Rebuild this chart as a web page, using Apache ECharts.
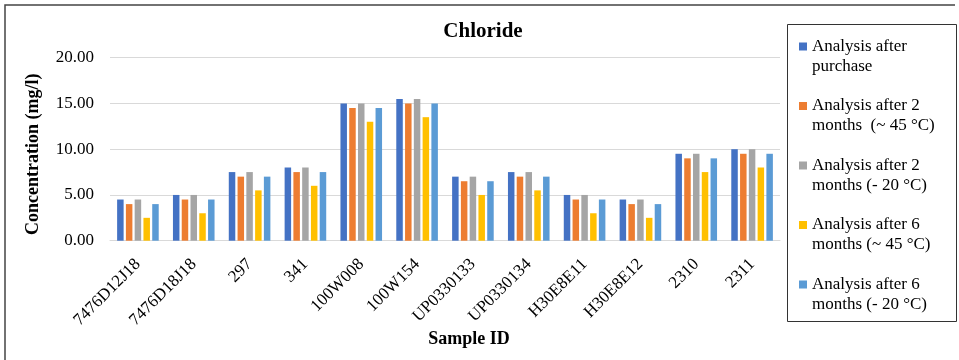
<!DOCTYPE html>
<html>
<head>
<meta charset="utf-8">
<script src="https://cdn.jsdelivr.net/npm/echarts@6/dist/echarts.min.js"></script>
<style>html,body{margin:0;padding:0;background:#fff}#c{width:959px;height:360px}</style>
</head>
<body>
<div id="c"></div>
<script>
const categories = ['7476D12J18','7476D18J18','297','341','100W008','100W154','UP0330133','UP0330134','H30E8E11','H30E8E12','2310','2311'];
const seriesNames = ['Analysis after purchase','Analysis after 2 months  (~ 45 °C)','Analysis after 2 months (- 20 °C)','Analysis after 6 months (~ 45 °C)','Analysis after 6 months (- 20 °C)'];
const legendLabels = ['Analysis after\npurchase','Analysis after 2\nmonths  (~ 45 °C)','Analysis after 2\nmonths (- 20 °C)','Analysis after 6\nmonths (~ 45 °C)','Analysis after 6\nmonths (- 20 °C)'];
const afterPurchase   = [4.5, 5.0, 7.5, 8.0, 15.0, 15.5, 7.0, 7.5, 5.0, 4.5, 9.5, 10.0];
const after2m45       = [4.0, 4.5, 7.0, 7.5, 14.5, 15.0, 6.5, 7.0, 4.5, 4.0, 9.0, 9.5];
const after2mMinus20  = [4.5, 5.0, 7.5, 8.0, 15.0, 15.5, 7.0, 7.5, 5.0, 4.5, 9.5, 10.0];
const after6m45       = [2.5, 3.0, 5.5, 6.0, 13.0, 13.5, 5.0, 5.5, 3.0, 2.5, 7.5, 8.0];
const after6mMinus20  = [4.0, 4.5, 7.0, 7.5, 14.5, 15.0, 6.5, 7.0, 4.5, 4.0, 9.0, 9.5];
const yTicks = [0, 5, 10, 15, 20];

const colors = ['#4472C4','#ED7D31','#A5A5A5','#FFC000','#5B9BD5'];
const seriesData = [afterPurchase, after2m45, after2mMinus20, after6m45, after6mMinus20];
const serif = '"Liberation Serif", "DejaVu Serif", serif';

const chart = echarts.init(document.getElementById('c'), null, {renderer: 'canvas'});
chart.setOption({
  animation: false,
  color: colors,
  textStyle: {fontFamily: serif},
  title: {
    text: 'Chloride', left: 483, top: 21, padding: 0, textAlign: 'center',
    textStyle: {fontFamily: serif, fontSize: 21, fontWeight: 'bold', color: '#000'}
  },
  graphic: [
    {type: 'polyline', shape: {points: [[5, 365], [5, 5], [955, 5]]}, style: {fill: 'none', stroke: '#444', lineWidth: 1.5}, silent: true},
    {type: 'rect', shape: {x: 787.5, y: 24.5, width: 169, height: 297}, style: {fill: '#fff', stroke: '#333', lineWidth: 1}, silent: true, z: -1}
  ],
  legend: {
    orient: 'vertical', left: 787, top: 24, padding: [12.5, 10, 9, 12],
    itemWidth: 8, itemHeight: 28, itemGap: 19.5,
    icon: 'path://M0,0H8V8H0Z M0,28H8',
    formatter: function (name) { return legendLabels[seriesNames.indexOf(name)]; },
    textStyle: {fontFamily: serif, fontSize: 17, lineHeight: 20, color: '#000'},
    data: seriesNames
  },
  grid: {left: 110, right: 179, top: 57.7, bottom: 119.3, containLabel: false},
  xAxis: {
    type: 'category', data: categories,
    name: 'Sample ID', nameLocation: 'middle', nameGap: 90, nameMoveOverlap: false,
    nameTextStyle: {fontFamily: serif, fontSize: 18, fontWeight: 'bold', color: '#000', padding: [0, 0, 0, 48]},
    axisLine: {show: true, lineStyle: {color: '#D9D9D9', width: 1}},
    axisTick: {show: false},
    axisLabel: {interval: 0, rotate: 45, margin: 21, fontFamily: serif, fontSize: 17, color: '#000'}
  },
  yAxis: {
    type: 'value', min: 0, max: 20, interval: 5,
    name: 'Concentration (mg/l)', nameLocation: 'middle', nameGap: 68, nameMoveOverlap: false,
    nameTextStyle: {fontFamily: serif, fontSize: 18, fontWeight: 'bold', color: '#000', padding: [0, 10, 0, 0]},
    axisLine: {show: false}, axisTick: {show: false},
    splitLine: {lineStyle: {color: '#D9D9D9', width: 1}},
    axisLabel: {margin: 16, fontFamily: serif, fontSize: 17, color: '#000',
      formatter: function (v) { return yTicks.indexOf(v) >= 0 ? v.toFixed(2) : ''; }}
  },
  series: seriesData.map(function (d, i) {
    return {name: seriesNames[i], type: 'bar', data: d, barWidth: 6.5, barGap: '35%'};
  })
});
</script>
</body>
</html>
